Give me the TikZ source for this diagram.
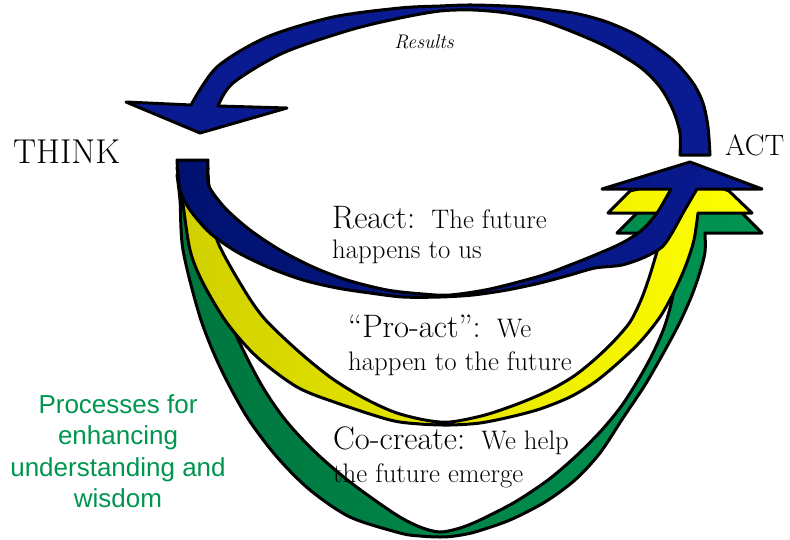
\documentclass[tikz,border=0pt]{standalone}
\usepackage{fontspec}
\newfontfamily\sansfont{Liberation Sans}
\definecolor{navy}{RGB}{10,26,145}
\definecolor{navydark}{RGB}{0,18,112}
\definecolor{ylw}{RGB}{255,255,0}
\definecolor{ylwdark}{RGB}{208,208,0}
\definecolor{grn}{RGB}{0,148,82}
\definecolor{grndark}{RGB}{0,118,62}
\definecolor{txtgreen}{RGB}{0,150,80}
\newcommand{\lab}[1]{{\fontsize{32.5}{34}\selectfont #1}}

\begin{document}
\begin{tikzpicture}[x=1pt, y=-1pt,
    band/.style={draw=black, line width=3pt, line join=round},
    lbl/.style={inner sep=0pt, anchor=base west, font=\fontsize{26.8}{32}\selectfont}]
  \useasboundingbox (0,0) rectangle (790,539);
  % co-create loop
  \path[band, left color=grndark, right color=grn]
    (177,175) -- (208,175)
    -- plot[smooth] coordinates {(208,175) (215,250) (228,315) (257,377) (283,417) (313,450) (350,482) (395,514) (420,527) (440,532) (460,528) (480,520) (515,502) (548,480) (575,457) (600,432) (620,408) (637,382) (652,355) (664,328) (672,300) (677,270) (680,233)}
    -- (617,233) -- (637,213) -- (690,200) -- (742,213) -- (762,233) -- (705,233)
    -- plot[smooth] coordinates {(705,233) (705,252) (700,272) (692,295) (680,322) (664,352) (645,385) (623,418) (600,453) (575,480) (545,502) (510,520) (475,532) (455,536) (440,537) (420,536) (400,533) (350,517) (310,490) (277,457) (247,417) (220,367) (200,317) (183,250) (180,200) (177,175)}
    -- cycle;
  % pro-act loop
  \path[band, left color=ylwdark, right color=ylw]
    (177,168) -- (208,168)
    -- plot[smooth] coordinates {(208,168) (209,200) (217,240) (240,283) (263,317) (297,350) (330,377) (362,397) (394,412) (425,420) (450,422) (485,415) (520,403) (550,390) (574,376) (594,360) (613,342) (630,322) (641,300) (649,278) (656,255) (662,235) (668,213)}
    -- (608,213) -- (630,191) -- (690,176) -- (729,191) -- (752,213) -- (698,213)
    -- plot[smooth] coordinates {(698,213) (694,240) (686,265) (675,290) (660,317) (640,342) (618,363) (595,382) (570,397) (540,409) (510,417) (480,423) (450,425) (420,424) (390,420) (337,403) (297,387) (257,357) (227,323) (203,283) (190,250) (182,197) (177,168)}
    -- cycle;
  % react loop
  \path[band, left color=navydark, right color=navy]
    (177,160) -- (208,160)
    -- plot[smooth] coordinates {(208,160) (208,182) (213,193) (227,210) (250,230) (280,250) (313,267) (347,280) (387,290) (423,294) (450,295) (490,289) (540,276) (570,265) (595,255) (622,243) (642,230) (657,213) (671,189)}
    -- (602,189) -- (690,162) -- (762,189) -- (697,189)
    -- plot[smooth] coordinates {(697,189) (683,213) (672,233) (662,247) (645,257) (622,265) (595,268) (570,275) (540,283) (507,290) (473,295) (440,297) (403,297) (370,293) (337,288) (303,280) (270,268) (237,252) (210,233) (190,210) (180,190) (177,160)}
    -- cycle;
  % results arrow
  \path[band, fill=navy]
    (680,155) -- (710,155)
    -- plot[smooth] coordinates {(710,155) (708,127) (703,103) (693,83) (673,60) (640,37) (607,22) (573,13) (523,7) (473,5) (440,6) (400,8) (333,17) (267,37) (217,67) (191,105)}
    -- (126,102) -- (200,133) -- (287,108) -- (218,106)
    -- plot[smooth] coordinates {(218,106) (233,83) (283,53) (350,30) (400,18) (440,11) (473,10) (507,13) (540,20) (573,32) (607,47) (640,67) (660,87) (673,110) (680,133) (680,155)}
    -- cycle;

  \node (think) [lbl, font=\fontsize{34.5}{38}\selectfont] at (13,163) {THINK};
  \node (act) [lbl, font=\fontsize{29.5}{34}\selectfont] at (725,155) {ACT};
  \node (results) [inner sep=0pt, anchor=base, font=\itshape\fontsize{19.7}{22}\selectfont] at (424,48) {Results};
  \node (react) [lbl] at (332,228) {\lab{React:}\ \ The future};
  \node (react2) [lbl] at (332,258) {happens to us};
  \node (proact) [lbl] at (348,337) {\lab{“Pro-act”:}\ \ We};
  \node (proact2) [lbl] at (348,370) {happen to the future};
  \node (cocreate) [lbl] at (333,449) {\lab{Co-create:}\ \ We help};
  \node (cocreate2) [lbl] at (333,482) {the future emerge};
  \node (procs) [inner sep=0pt, anchor=north, align=center, text=txtgreen,
    font=\sansfont\fontsize{26}{31.5}\selectfont] at (118,394)
    {Processes for\\enhancing\\understanding and\\wisdom};
\end{tikzpicture}
\end{document}
